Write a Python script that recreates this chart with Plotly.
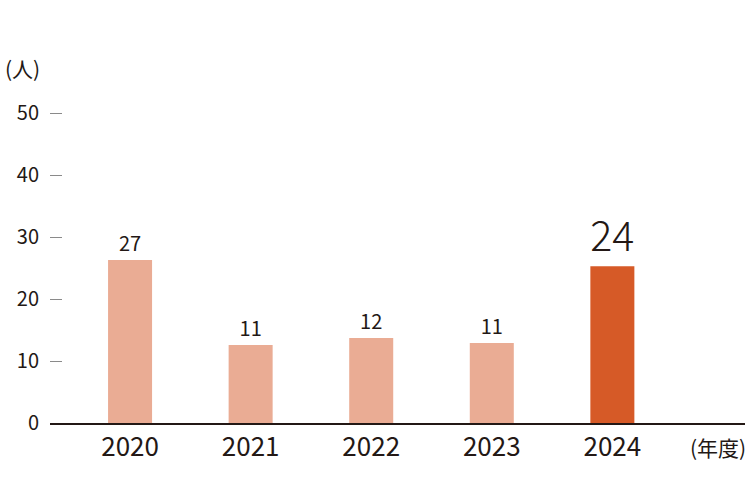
import plotly.graph_objects as go

years = ["2020", "2021", "2022", "2023", "2024"]
bar_heights = [26.3, 12.6, 13.7, 12.9, 25.3]
value_labels = ["27", "11", "12", "11", "24"]
bar_colors = ["#EAAC94", "#EAAC94", "#EAAC94", "#EAAC94", "#D65A27"]
label_sizes = [20, 20, 20, 20, 61]
label_weights = [400, 400, 400, 400, 300]
y_ticks = [0, 10, 20, 30, 40, 50]

FONT = "Noto Sans CJK JP, Noto Sans, sans-serif"
INK = "#231815"

L, R, T, B = 50, 5, 107, 77
PW, PH = 750 - L - R, 500 - T - B

fig = go.Figure(go.Bar(
    x=years, y=bar_heights,
    marker=dict(color=bar_colors, line=dict(width=0)),
    width=0.365,
    text=value_labels,
    textposition="outside",
    textfont=dict(size=label_sizes, color=INK, family=FONT, weight=label_weights),
    cliponaxis=False,
    hoverinfo="skip",
))

fig.update_layout(
    width=750, height=500,
    margin=dict(l=L, r=R, t=T, b=B, autoexpand=False),
    paper_bgcolor="white", plot_bgcolor="white",
    showlegend=False,
    font=dict(family=FONT, color=INK),
    xaxis=dict(
        type="category", range=[-0.664, 5.1], automargin=False,
        showgrid=False, showline=True, linecolor=INK, linewidth=2,
        ticks="", tickfont=dict(size=26, color=INK, family=FONT),
        zeroline=False,
    ),
    yaxis=dict(
        range=[0, 51], tickvals=y_ticks, showgrid=False, zeroline=False,
        automargin=False,
        showline=False, ticks="inside", ticklen=12, tickcolor="#8a8a8a", tickwidth=1,
        tickfont=dict(size=20, color=INK, family=FONT),
        ticklabelstandoff=10,
    ),
    annotations=[
        dict(text="(人)", xref="paper", yref="paper", x=-47 / PW, y=(500 - B - 68) / PH,
             xanchor="left", yanchor="middle", showarrow=False,
             font=dict(size=21, color=INK, family=FONT)),
        dict(text="(年度)", xref="paper", yref="paper", x=(748 - L) / PW, y=-24 / PH,
             xanchor="right", yanchor="middle", showarrow=False,
             font=dict(size=21, color=INK, family=FONT)),
    ],
)

fig.write_html("out.html", config={"displayModeBar": False},
               post_script="document.body.style.margin='0';")
